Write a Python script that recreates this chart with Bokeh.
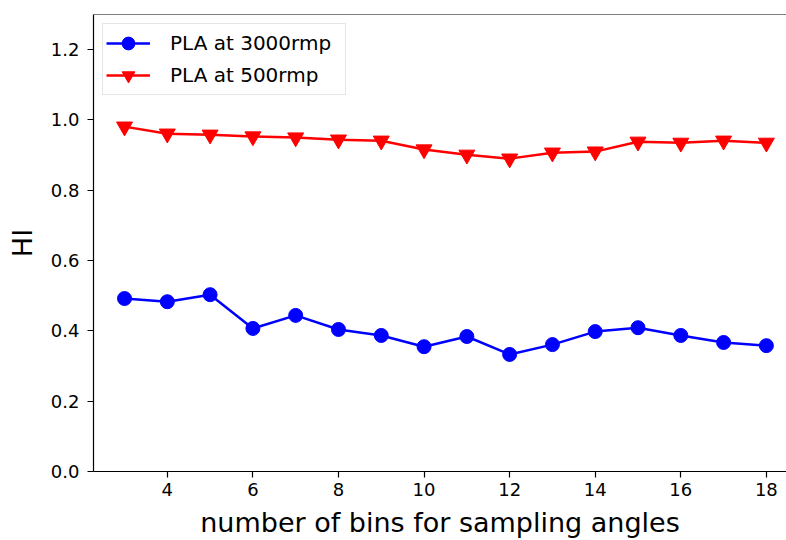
from bokeh.plotting import figure
from bokeh.models import FixedTicker, PrintfTickFormatter, Span, Range1d, Legend, LegendItem
from bokeh.embed import file_html
from bokeh.resources import INLINE

bins = [3, 4, 5, 6, 7, 8, 9, 10, 11, 12, 13, 14, 15, 16, 17, 18]
hi_3000 = [0.492, 0.483, 0.503, 0.407, 0.444, 0.404, 0.387, 0.355, 0.384, 0.333,
           0.361, 0.398, 0.409, 0.387, 0.367, 0.358]
hi_500 = [0.981, 0.961, 0.958, 0.953, 0.950, 0.944, 0.941, 0.916, 0.901, 0.890,
          0.907, 0.910, 0.938, 0.935, 0.941, 0.935]
x_ticks = [4, 6, 8, 10, 12, 14, 16, 18]
y_ticks = [0.0, 0.2, 0.4, 0.6, 0.8, 1.0, 1.2]
label_3000 = "PLA at 3000rmp"
label_500 = "PLA at 500rmp"

FONT = "DejaVu Sans"

p = figure(width=786, height=540, output_backend="svg", toolbar_location=None,
           x_range=Range1d(2.275, 18.47), y_range=Range1d(0, 1.3),
           min_border_left=93, min_border_top=14, min_border_right=0, min_border_bottom=10)
p.outline_line_color = None
p.xgrid.visible = False
p.ygrid.visible = False
p.background_fill_color = "white"
p.border_fill_color = "white"

l1 = p.line(bins, hi_3000, line_color="#0000ff", line_width=2.5)
m1 = p.scatter(bins, hi_3000, marker="circle", size=14, fill_color="#0000ff", line_color="#0000ff")
l2 = p.line(bins, hi_500, line_color="#ff0000", line_width=2.5)
m2 = p.scatter(bins, hi_500, marker="inverted_triangle", size=16, fill_color="#ff0000", line_color="#ff0000")

# top spine
p.add_layout(Span(location=1.3, dimension="width", line_color="black", line_width=1.2))

for ax in (p.xaxis[0], p.yaxis[0]):
    ax.axis_line_color = "black"
    ax.axis_line_width = 1.2
    ax.major_tick_in = 0
    ax.major_tick_out = 6
    ax.major_tick_line_width = 1.2
    ax.minor_tick_line_color = None
    ax.major_label_text_font = FONT
    ax.major_label_text_font_size = "18px"
    ax.major_label_text_color = "black"
    ax.axis_label_text_font = FONT
    ax.axis_label_text_font_size = "27px"
    ax.axis_label_text_font_style = "normal"
    ax.axis_label_text_color = "black"

p.xaxis.ticker = FixedTicker(ticks=x_ticks)
p.yaxis.ticker = FixedTicker(ticks=y_ticks)
p.yaxis.formatter = PrintfTickFormatter(format="%.1f")
p.xaxis.axis_label = "number of bins for sampling angles"
p.yaxis.axis_label = "HI"
p.xaxis.major_label_standoff = 5
p.xaxis.axis_label_standoff = 8
p.yaxis.major_label_standoff = 8
p.yaxis.axis_label_standoff = 10

legend = Legend(items=[LegendItem(label=label_3000, renderers=[l1, m1]),
                       LegendItem(label=label_500, renderers=[l2, m2])],
                location="top_left")
legend.margin = 9
legend.padding = 3
legend.spacing = 0
legend.glyph_width = 44
legend.glyph_height = 32
legend.label_height = 32
legend.label_width = 172
legend.label_standoff = 20
legend.label_text_font = FONT
legend.label_text_font_size = "20px"
legend.label_text_color = "black"
legend.border_line_color = "#cccccc"
legend.border_line_width = 1
legend.background_fill_alpha = 0.8
p.add_layout(legend)

open("out.html", "w").write(file_html(p, INLINE))
